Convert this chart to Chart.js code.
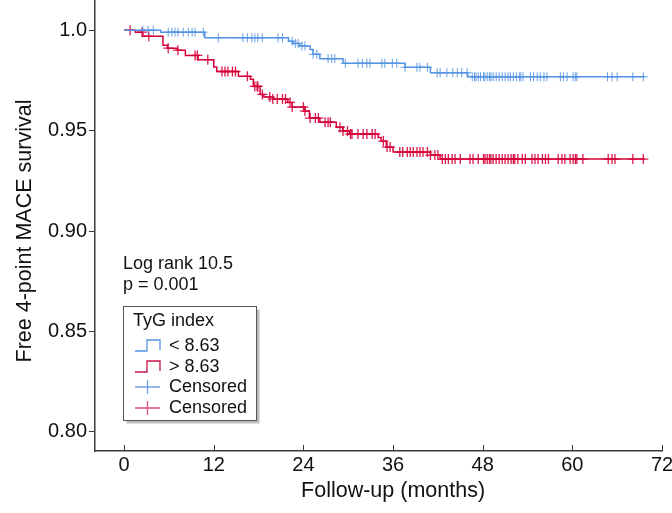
<!DOCTYPE html>
<html>
<head>
<meta charset="utf-8">
<script src="https://cdn.jsdelivr.net/npm/chart.js@4/dist/chart.umd.min.js"></script>
<style>
  html, body { margin: 0; padding: 0; background: #fff; }
</style>
</head>
<body>
<canvas id="myChart" width="672" height="513"></canvas>
<script>
// Kaplan-Meier steps, TyG index < 8.63 (months, survival)
const lowTimes = [0, 4.9, 10.8, 22.0, 22.6, 23.5, 24.9, 25.3, 26.2, 29.3, 37.6, 41.0, 46.0, 69.7];
const lowSurv = [1.0, 0.999, 0.9962, 0.9945, 0.9934, 0.9921, 0.9904, 0.988, 0.9858, 0.9835, 0.9815, 0.9788, 0.9768, 0.9768];

// Kaplan-Meier steps, TyG index > 8.63
const highTimes = [0, 1.5, 2.5, 5.2, 5.8, 7.1, 8.2, 9.9, 12.0, 12.4, 15.3, 16.9, 17.3, 18.2, 18.7, 19.9, 21.9, 22.5,
  24.2, 24.8, 26.2, 28.4, 29.3, 30.2, 34.0, 34.4, 35.1, 36.0, 41.0, 42.3, 69.7];
const highSurv = [1.0, 0.999, 0.997, 0.9925, 0.991, 0.990, 0.9874, 0.9853, 0.9816, 0.9794, 0.977, 0.9756, 0.972, 0.968,
  0.9667, 0.9657, 0.964, 0.9617, 0.9597, 0.9562, 0.9542, 0.9517, 0.9498, 0.9483, 0.9465, 0.9448, 0.9418, 0.9393,
  0.9378, 0.9358, 0.9358];

// censored times (months)
const lowCensor = [2.5, 3.2, 3.9, 5.9, 6.4, 6.8, 7.2, 7.9, 8.6, 9.1, 9.5, 10.6, 12.6, 15.9, 16.5, 17.1, 17.5, 17.9,
  18.5, 20.6, 21.2, 22.5, 22.9, 23.3, 23.8, 24.2, 25.3, 25.8, 27.3, 27.8, 28.2, 29.6, 31.3, 31.9, 32.5, 32.9, 34.5,
  34.9, 35.9, 36.5, 37.6, 39.2, 39.6, 40.6, 41.9, 42.3, 43.2, 44.0, 44.6, 45.2, 45.9, 46.6, 46.9, 47.1, 47.4, 47.7,
  48.1, 48.3, 48.6, 48.9, 49.1, 49.4, 49.8, 50.2, 50.6, 51.0, 51.4, 51.7, 52.1, 52.5, 52.9, 53.1, 53.4, 54.4, 54.8,
  55.3, 55.7, 56.2, 56.6, 58.4, 58.8, 59.3, 60.1, 60.4, 60.6, 64.7, 65.3, 66.0, 68.1, 69.5];
const highCensor = [0.8, 2.4, 3.3, 5.9, 7.2, 9.5, 9.8, 11.2, 13.1, 13.5, 13.9, 14.5, 14.9, 16.5, 17.5, 17.8, 17.9,
  18.5, 19.5, 19.9, 20.5, 21.2, 21.6, 22.2, 22.5, 24.0, 24.2, 24.9, 25.6, 26.0, 26.9, 27.3, 27.6, 28.9, 29.3, 29.9,
  30.3, 30.5, 31.3, 32.0, 32.5, 33.2, 33.6, 34.7, 35.2, 35.6, 36.9, 37.3, 37.9, 38.3, 38.7, 39.2, 39.6, 40.0, 40.6,
  41.0, 41.6, 42.0, 42.6, 43.0, 43.4, 43.9, 44.3, 45.0, 46.3, 46.7, 47.4, 48.1, 48.3, 48.6, 48.9, 49.1, 49.4, 49.8,
  50.2, 50.6, 51.0, 51.4, 51.8, 52.1, 52.3, 52.7, 53.3, 53.7, 54.6, 55.0, 55.4, 56.0, 56.4, 56.8, 58.1, 58.6, 59.0,
  59.7, 60.1, 60.4, 60.6, 61.4, 64.8, 65.3, 65.7, 68.1, 69.5];

const xTicks = [0, 12, 24, 36, 48, 60, 72];
const yTicks = [0.80, 0.85, 0.90, 0.95, 1.0];
const yTickLabels = ["0.80", "0.85", "0.90", "0.95", "1.0"];

const blue = "rgb(84,148,226)";
const red = "rgb(214,0,58)";
const axisColor = "#3a3a3a";
const fontFamily = "'Liberation Sans', Arial, sans-serif";

// survival value at time t (last step at or before t)
function survAt(times, surv, t) {
  let s = surv[0];
  for (let i = 0; i < times.length; i++) {
    if (times[i] <= t) s = surv[i];
  }
  return s;
}

function stepPoints(times, surv) {
  return times.map((t, i) => ({ x: t, y: surv[i] }));
}

function censorPoints(cens, times, surv) {
  return cens.map(t => ({ x: t, y: survAt(times, surv, t) }));
}

// inward x ticks, axis titles, legend box and log-rank note
const extras = {
  id: "extras",
  afterDraw(chart) {
    const ctx = chart.ctx;
    const xs = chart.scales.x;
    const ys = chart.scales.y;
    const bottom = chart.chartArea.bottom;
    ctx.save();
    ctx.strokeStyle = axisColor;
    ctx.lineWidth = 1;
    xTicks.forEach(v => {
      const px = Math.round(xs.getPixelForValue(v)) + 0.5;
      ctx.beginPath();
      ctx.moveTo(px, bottom);
      ctx.lineTo(px, bottom - 6);
      ctx.stroke();
    });

    // axis titles, centred on the tick range
    ctx.fillStyle = "#111";
    ctx.font = "21.5px " + fontFamily;
    ctx.textAlign = "center";
    ctx.textBaseline = "middle";
    const xMid = (xs.getPixelForValue(xTicks[0]) + xs.getPixelForValue(xTicks[xTicks.length - 1])) / 2;
    ctx.fillText("Follow-up (months)", xMid, 491);
    const yMid = (ys.getPixelForValue(yTicks[0]) + ys.getPixelForValue(yTicks[yTicks.length - 1])) / 2;
    ctx.save();
    ctx.translate(25, yMid);
    ctx.rotate(-Math.PI / 2);
    ctx.fillText("Free 4-point MACE survival", 0, 0);
    ctx.restore();

    ctx.font = "18px " + fontFamily;
    ctx.textAlign = "left";
    ctx.fillText("Log rank 10.5", 123, 264);
    ctx.fillText("p = 0.001", 123, 285);

    // legend box
    const bx = 123.5, by = 306.5, bw = 133, bh = 114;
    ctx.fillStyle = "#bdbdbd";
    ctx.fillRect(bx + 3, by + 3, bw, bh);
    ctx.fillStyle = "#fff";
    ctx.fillRect(bx, by, bw, bh);
    ctx.strokeStyle = "#555";
    ctx.lineWidth = 1;
    ctx.strokeRect(bx, by, bw, bh);

    ctx.fillStyle = "#111";
    ctx.fillText("TyG index", 133, 321);

    const rows = [
      { y: 346, label: "< 8.63", color: blue, kind: "step" },
      { y: 367, label: "> 8.63", color: "rgb(200,20,70)", kind: "step" },
      { y: 387, label: "Censored", color: "rgb(110,160,230)", kind: "cross" },
      { y: 408, label: "Censored", color: "rgb(226,80,120)", kind: "cross" }
    ];
    rows.forEach(r => {
      ctx.strokeStyle = r.color;
      ctx.lineWidth = 1.3;
      ctx.beginPath();
      if (r.kind === "step") {
        ctx.moveTo(135, r.y + 5);
        ctx.lineTo(147, r.y + 5);
        ctx.lineTo(147, r.y - 6);
        ctx.lineTo(160, r.y - 6);
        ctx.lineTo(160, r.y + 4);
      } else {
        ctx.moveTo(135, r.y);
        ctx.lineTo(160, r.y);
        ctx.moveTo(147.5, r.y - 7);
        ctx.lineTo(147.5, r.y + 7);
      }
      ctx.stroke();
      ctx.fillStyle = "#111";
      ctx.fillText(r.label, 169, r.y);
    });
    ctx.restore();
  }
};

const ctx = document.getElementById("myChart").getContext("2d");
const myChart = new Chart(ctx, {
  type: "scatter",
  data: {
    datasets: [
      {
        label: "< 8.63",
        data: stepPoints(lowTimes, lowSurv),
        showLine: true,
        stepped: "before",
        borderColor: blue,
        borderWidth: 1.5,
        pointRadius: 0
      },
      {
        label: "> 8.63",
        data: stepPoints(highTimes, highSurv),
        showLine: true,
        stepped: "before",
        borderColor: red,
        borderWidth: 1.5,
        pointRadius: 0
      },
      {
        label: "Censored",
        data: censorPoints(lowCensor, lowTimes, lowSurv),
        pointStyle: "cross",
        pointRadius: 4.5,
        pointBorderWidth: 1,
        borderColor: "rgba(84,148,226,0.9)",
        backgroundColor: "rgba(84,148,226,0.9)"
      },
      {
        label: "Censored",
        data: censorPoints(highCensor, highTimes, highSurv),
        pointStyle: "cross",
        pointRadius: 5,
        pointBorderWidth: 1.3,
        borderColor: "rgba(214,0,58,0.9)",
        backgroundColor: "rgba(214,0,58,0.9)"
      }
    ]
  },
  options: {
    responsive: false,
    animation: false,
    devicePixelRatio: 1,
    layout: { autoPadding: false, padding: { top: 0, right: 10, bottom: 0, left: 0 } },
    plugins: {
      legend: { display: false },
      tooltip: { enabled: false }
    },
    scales: {
      x: {
        type: "linear",
        min: -3.9,
        max: 72,
        afterBuildTicks: (scale) => { scale.ticks = xTicks.map(v => ({ value: v })); },
        afterFit: (scale) => {
          scale.height = 62;
          scale.paddingLeft = 0;
          scale.paddingRight = 0;
        },
        ticks: {
          font: { size: 20, family: fontFamily },
          color: "#111",
          padding: 2,
          maxRotation: 0
        },
        grid: { display: true, drawOnChartArea: false, drawTicks: false },
        border: { display: true, color: axisColor, width: 1.5 }
      },
      y: {
        type: "linear",
        min: 0.7905,
        max: 1.015,
        afterBuildTicks: (scale) => { scale.ticks = yTicks.map(v => ({ value: v })); },
        afterFit: (scale) => {
          scale.width = 95;
          scale.paddingTop = 0;
          scale.paddingBottom = 0;
        },
        ticks: {
          font: { size: 20, family: fontFamily },
          color: "#111",
          padding: 2,
          callback: (v) => yTickLabels[yTicks.findIndex(t => Math.abs(t - v) < 1e-6)]
        },
        grid: { display: true, drawOnChartArea: false, drawTicks: true, tickLength: 6, color: axisColor },
        border: { display: true, color: axisColor, width: 1.5 }
      }
    }
  },
  plugins: [extras]
});
</script>
</body>
</html>
